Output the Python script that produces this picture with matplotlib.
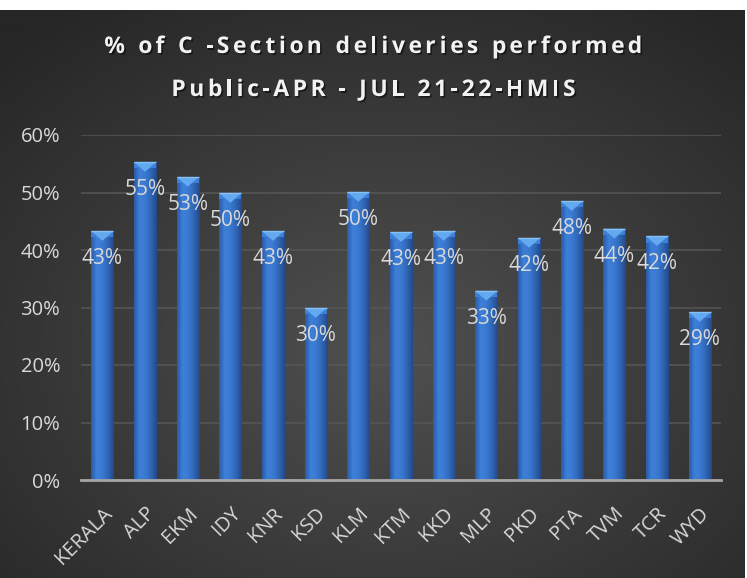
import numpy as np
import matplotlib
matplotlib.use("Agg")
import matplotlib.pyplot as plt
from matplotlib.colors import LinearSegmentedColormap
from matplotlib.patches import Polygon
import matplotlib.patheffects as pe

# district codes and C-section share (Apr-Jul 21-22, public facilities)
districts = ["KERALA", "ALP", "EKM", "IDY", "KNR", "KSD", "KLM", "KTM",
             "KKD", "MLP", "PKD", "PTA", "TVM", "TCR", "WYD"]
csec_pct = [43.3, 55.3, 52.7, 49.9, 43.3, 29.9, 50.1, 43.1,
            43.3, 32.9, 42.1, 48.5, 43.7, 42.4, 29.2]
label_txt = ["43%", "55%", "53%", "50%", "43%", "30%", "50%", "43%",
             "43%", "33%", "42%", "48%", "44%", "42%", "29%"]
yticks = [0, 10, 20, 30, 40, 50, 60]
title_lines = ["% of C -Section deliveries performed", "Public-APR - JUL 21-22-HMIS"]

txt_col = "#d9d9d9"
plt.rcParams["font.family"] = ["Open Sans", "DejaVu Sans"]

fig = plt.figure(figsize=(7.47, 5.78), dpi=100, facecolor="white")
renderer = fig.canvas.get_renderer()

# dark radial background
bg = fig.add_axes([0, 0, 1 - 2 / 747, 1 - 10 / 578])
bg.set_axis_off()
yy, xx = np.mgrid[0:1:300j, 0:1:400j]
r = np.sqrt(((xx - 0.52) / 0.75) ** 2 + ((yy - 0.40) / 0.75) ** 2)
bgmap = LinearSegmentedColormap.from_list("bg", ["#505050", "#3b3b3b", "#262626"])
bg.imshow(np.clip(r, 0, 1), cmap=bgmap, vmin=0, vmax=1, aspect="auto",
          extent=[0, 1, 0, 1], origin="lower")
bg.set_xlim(0, 1)
bg.set_ylim(0, 1)

ax = fig.add_axes([81 / 747, 1 - 480 / 578, 640 / 747, 345 / 578])
ax.set_facecolor("none")
x = np.arange(len(districts))
bars = ax.bar(x, csec_pct, width=0.52, color="#3572c6", zorder=3)

barmap = LinearSegmentedColormap.from_list(
    "bar", ["#2a5ba6", "#3e80da", "#3a79d0", "#2f66b4", "#22498a"])
grad = np.linspace(0, 1, 64).reshape(1, -1)
for b in bars:
    bx, bw, bh = b.get_x(), b.get_width(), b.get_height()
    im = ax.imshow(grad, cmap=barmap, aspect="auto", zorder=4,
                   extent=[bx, bx + bw, 0, bh], origin="lower")
    im.set_clip_path(b)
    # bevelled top
    cap = 1.1
    ax.add_patch(Polygon([(bx, bh), (bx + bw, bh), (bx + bw, bh - cap), (bx, bh - cap)],
                         closed=True, color="#3d80d8", zorder=5, lw=0))
    ax.add_patch(Polygon([(bx, bh), (bx + bw, bh), (bx + bw / 2, bh - 1.7)],
                         closed=True, color="#63a9f0", zorder=6, lw=0))
    ax.plot([bx, bx + bw], [bh, bh], color="#86c0f6", lw=1, zorder=7,
            solid_capstyle="butt")

for xi, v, t in zip(x, csec_pct, label_txt):
    ax.text(xi, v - 4.8, t, ha="center", va="center", color=txt_col,
            fontsize=15, zorder=8)

ax.set_xlim(-0.5, len(districts) - 0.5)
ax.set_ylim(0, 60)
ax.set_yticks(yticks)
ax.set_yticklabels([f"{t}%" for t in yticks], color=txt_col, fontsize=14.5)
ax.set_xticks(x)
ax.set_xticklabels(districts, rotation=45, ha="right", rotation_mode="anchor",
                   color=txt_col, fontsize=14.5)
ax.tick_params(axis="both", length=0)
ax.tick_params(axis="y", pad=15)
ax.tick_params(axis="x", pad=17)
ax.grid(axis="y", color="#575757", lw=1.1, zorder=0)
for s in ["top", "right", "left"]:
    ax.spines[s].set_visible(False)
ax.spines["bottom"].set_color("#a6a6a6")
ax.spines["bottom"].set_linewidth(2)
ax.spines["bottom"].set_zorder(9)


# title with extra letter spacing, drawn one character at a time
def text_width(s, **kw):
    t = fig.text(0, 0, s + "x", **kw)
    w = t.get_window_extent(renderer).width
    t.remove()
    t = fig.text(0, 0, "x", **kw)
    w -= t.get_window_extent(renderer).width
    t.remove()
    return w


tkw = dict(fontsize=16.5, fontweight="bold")
track = 3.6
shadow = [pe.withSimplePatchShadow(offset=(1.2, -1.2), shadow_rgbFace="black", alpha=0.5)]
for line, yc in zip(title_lines, [47, 90]):
    total = text_width(line, **tkw) + track * (len(line) - 1)
    left = 747 / 2 - total / 2
    for i, ch in enumerate(line):
        if ch == " ":
            continue
        px = left + text_width(line[:i], **tkw) + track * i
        fig.text(px / 747, 1 - yc / 578, ch, ha="left", va="center",
                 color="#f2f2f2", path_effects=shadow, **tkw)

fig.savefig("out.png", dpi=100, facecolor="white")
